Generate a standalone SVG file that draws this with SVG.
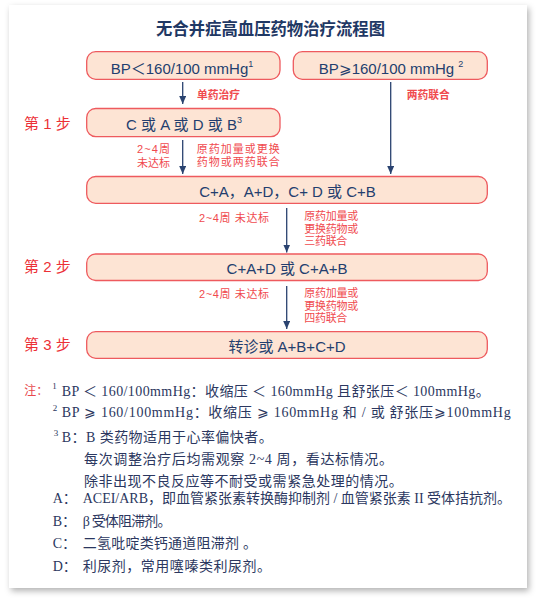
<svg xmlns="http://www.w3.org/2000/svg" width="537" height="601" viewBox="0 0 537 601">
<defs>
<filter id="sh" x="-5%" y="-5%" width="112%" height="112%">
<feDropShadow dx="2" dy="3" stdDeviation="3" flood-color="#000" flood-opacity="0.3"/>
</filter>
<marker id="ah" viewBox="0 0 8 7" refX="8" refY="3.5" markerWidth="8" markerHeight="7" markerUnits="userSpaceOnUse" orient="auto">
<path d="M0,0 L8,3.5 L0,7 Z" fill="#2a4370"/>
</marker>
<style>
.box{fill:#fde4d4;stroke:#ee5a5e;stroke-width:1.3}
.bt{font-family:"Liberation Sans","Noto Sans CJK SC",sans-serif;font-size:15px;fill:#233e6e;text-anchor:middle}
.sup{font-size:9px}
.step{font-family:"Liberation Sans","Noto Sans CJK SC",sans-serif;font-size:15px;fill:#ec3036}
.lab{font-family:"Liberation Sans","Noto Sans CJK SC",sans-serif;font-size:11px;fill:#f04a4e}
.labb{font-weight:bold}
.con{stroke:#2a4370;stroke-width:1.3;fill:none;marker-end:url(#ah)}
.nt{font-family:"Liberation Serif","Noto Sans CJK SC",serif;font-size:14px;fill:#2b3760}
.ns{font-family:"Liberation Serif",serif;font-size:9px;fill:#2b3760}
</style>
</defs>
<rect x="0" y="0" width="537" height="601" fill="#ffffff"/>
<rect x="9" y="5" width="518" height="583" fill="#ffffff" filter="url(#sh)"/>
<text x="270.5" y="35" font-family="'Noto Sans CJK SC',sans-serif" font-size="17" font-weight="bold" fill="#1f3864" text-anchor="middle" textLength="229" lengthAdjust="spacingAndGlyphs">无合并症高血压药物治疗流程图</text>

<g id="connectors">
<line class="con" x1="182.7" y1="82" x2="182.7" y2="104"/>
<line class="con" x1="390.7" y1="82" x2="390.7" y2="174"/>
<line class="con" x1="182.7" y1="140" x2="182.7" y2="174"/>
<line class="con" x1="286.7" y1="208" x2="286.7" y2="252.5"/>
<line class="con" x1="286.7" y1="286" x2="286.7" y2="329"/>
<text class="lab labb" x="197" y="98.5" textLength="43" lengthAdjust="spacingAndGlyphs">单药治疗</text>
<text class="lab labb" x="406.7" y="99" textLength="43" lengthAdjust="spacingAndGlyphs">两药联合</text>
<text class="lab" x="137" y="152.5" textLength="33" lengthAdjust="spacing">2~4周</text>
<text class="lab" x="137" y="166.5" textLength="33" lengthAdjust="spacing">未达标</text>
<text class="lab" x="196.7" y="152.5" textLength="83" lengthAdjust="spacing">原药加量或更换</text>
<text class="lab" x="196.7" y="166" textLength="83" lengthAdjust="spacing">药物或两药联合</text>
<text class="lab" x="199" y="221.5" textLength="70" lengthAdjust="spacing">2~4周 未达标</text>
<text class="lab" x="304.3" y="220" textLength="54" lengthAdjust="spacing">原药加量或</text>
<text class="lab" x="304.3" y="232.5" textLength="54" lengthAdjust="spacing">更换药物或</text>
<text class="lab" x="304.3" y="245" textLength="43" lengthAdjust="spacing">三药联合</text>
<text class="lab" x="199" y="297.5" textLength="70" lengthAdjust="spacing">2~4周 未达标</text>
<text class="lab" x="304.3" y="297" textLength="54" lengthAdjust="spacing">原药加量或</text>
<text class="lab" x="304.3" y="309.5" textLength="54" lengthAdjust="spacing">更换药物或</text>
<text class="lab" x="304.3" y="322" textLength="43" lengthAdjust="spacing">四药联合</text>
</g>

<g id="bp-low">
<rect class="box" x="86.7" y="51.7" width="193.3" height="27.6" rx="9"/>
<text class="bt" x="182" y="73.5">BP＜160/100 mmHg<tspan class="sup" dy="-7">1</tspan></text>
</g>
<g id="bp-high">
<rect class="box" x="293.3" y="51.7" width="194" height="27.6" rx="9"/>
<text class="bt" x="391" y="73.5">BP⩾160/100 mmHg <tspan class="sup" dy="-7">2</tspan></text>
</g>

<g id="step1">
<text class="step" x="24" y="129">第 1 步</text>
<rect class="box" x="86.7" y="108.5" width="193.3" height="28.2" rx="9"/>
<text class="bt" x="184" y="130">C 或 A 或 D 或 B<tspan class="sup" dy="-7">3</tspan></text>
</g>

<g id="two-drug">
<rect class="box" x="86.7" y="176.5" width="400.6" height="26.8" rx="9"/>
<text class="bt" x="287.5" y="197">C+A，A+D，C+ D 或 C+B</text>
</g>

<g id="step2">
<text class="step" x="24" y="272">第 2 步</text>
<rect class="box" x="86.7" y="254" width="400.6" height="26.5" rx="9"/>
<text class="bt" x="287" y="273.5">C+A+D 或 C+A+B</text>
</g>

<g id="step3">
<text class="step" x="24" y="350">第 3 步</text>
<rect class="box" x="86.7" y="331.7" width="400.6" height="26.6" rx="9"/>
<text class="bt" x="287" y="351.5">转诊或 A+B+C+D</text>
</g>

<g id="notes">
<text x="24.3" y="395" font-family="'Noto Sans CJK SC',sans-serif" font-size="12" fill="#e8474d">注：</text>
<text class="ns" x="52.3" y="389">1</text>
<text class="nt" x="61.7" y="395.5" textLength="428" lengthAdjust="spacing">BP ＜ 160/100mmHg：收缩压 ＜ 160mmHg 且舒张压＜ 100mmHg。</text>
<text class="ns" x="52.7" y="411">2</text>
<text class="nt" x="61.7" y="417" textLength="449" lengthAdjust="spacing">BP ⩾ 160/100mmHg：收缩压 ⩾ 160mmHg 和 / 或 舒张压⩾100mmHg</text>
<text class="ns" x="53.8" y="436">3</text>
<text class="nt" x="61.7" y="442" textLength="211" lengthAdjust="spacing">B：B 类药物适用于心率偏快者。</text>
<text class="nt" x="84" y="464" textLength="309" lengthAdjust="spacing">每次调整治疗后均需观察 2~4 周，看达标情况。</text>
<text class="nt" x="84" y="485.5" textLength="318.7" lengthAdjust="spacing">除非出现不良反应等不耐受或需紧急处理的情况。</text>
<text class="nt" x="52.7" y="503">A：</text>
<text class="nt" x="82.7" y="503" textLength="428.3" lengthAdjust="spacing">ACEI/ARB，即血管紧张素转换酶抑制剂 / 血管紧张素 II 受体拮抗剂。</text>
<text class="nt" x="52.7" y="525.5">B：</text>
<text class="nt" x="82.7" y="525.5" textLength="88.8" lengthAdjust="spacing">β 受体阻滞剂。</text>
<text class="nt" x="52.7" y="548">C：</text>
<text class="nt" x="82.7" y="548" textLength="174.3" lengthAdjust="spacing">二氢吡啶类钙通道阻滞剂 。</text>
<text class="nt" x="52.7" y="570.5">D：</text>
<text class="nt" x="82.7" y="570.5" textLength="188.3" lengthAdjust="spacing">利尿剂，常用噻嗪类利尿剂。</text>
</g>
</svg>
